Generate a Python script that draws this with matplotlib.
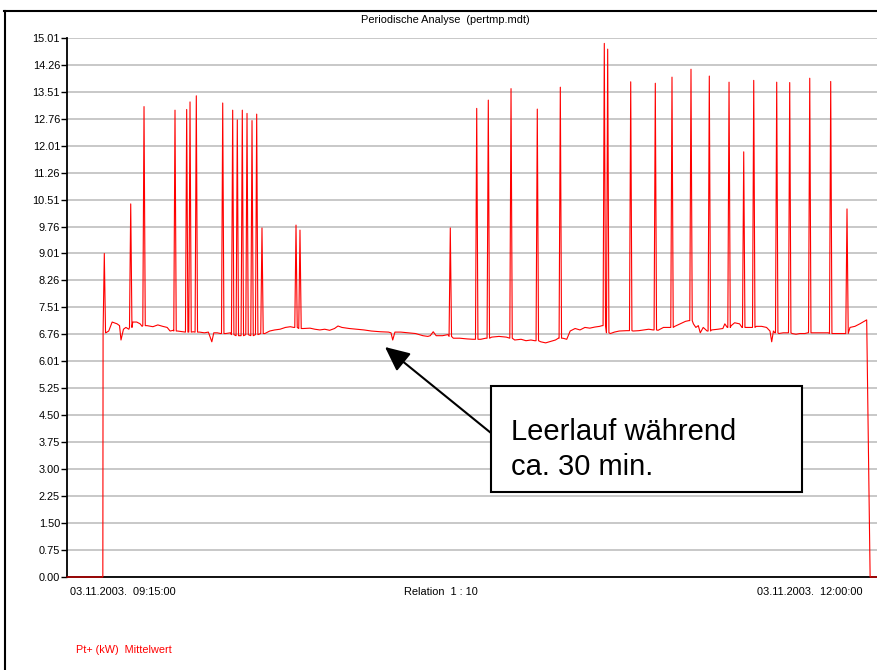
#!/usr/bin/env python3
"""Periodische Analyse (pertmp.mdt): Pt+ Mittelwert, 03.11.2003 09:15 - 12:00."""
import numpy as np
import matplotlib

matplotlib.use("Agg")
import matplotlib.pyplot as plt
from matplotlib.lines import Line2D

plt.rcParams["font.family"] = ["Liberation Sans", "DejaVu Sans"]

# ---------- data (minutes after 09:15:00, kW) ----------
BASE_MIN = [0.0, 7.3, 7.9, 8.5, 9.2, 10.2, 10.7, 11.0, 11.5, 12.0, 12.6,
            13.4, 14.2, 14.9, 15.3, 16.3, 17.5, 18.5, 19.5, 20.4, 21.0, 21.7,
            22.5, 23.5, 24.1, 25.7, 27.0, 28.0, 28.8, 29.5, 29.9, 30.6, 31.3,
            32.3, 33.3, 40.3, 41.3, 42.3, 43.4, 44.5, 45.5, 46.2, 48.2, 49.5,
            50.5, 51.5, 52.5, 53.5, 54.5, 55.2, 56.0, 57.5, 59.0, 60.5, 62.0,
            63.8, 65.5, 66.0, 66.35, 66.8, 68.0, 69.5, 71.0, 72.5, 73.5, 74.0,
            74.6, 75.2, 76.5, 77.6, 78.7, 80.0, 81.5, 82.7, 84.3, 85.3, 86.5,
            88.0, 89.5, 91.2, 92.5, 93.5, 94.5, 95.3, 96.5, 97.5, 98.5, 99.5,
            100.1, 101.0, 101.8, 102.5, 103.5, 104.5, 105.5, 106.5, 107.5,
            108.5, 109.0, 110.7, 111.5, 112.5, 114.0, 115.3, 116.5, 117.5,
            118.5, 119.4, 120.4, 121.5, 122.8, 123.8, 124.9, 126.0, 126.7,
            127.6, 128.1, 128.6, 129.0, 129.6, 130.4, 131.3, 132.6, 133.6,
            134.0, 134.5, 135.3, 136.0, 137.0, 137.5, 138.3, 139.4, 140.4,
            141.5, 142.5, 143.2, 143.55, 143.9, 144.2, 145.0, 145.9, 146.8,
            147.7, 148.5, 149.3, 150.3, 150.9, 151.8, 153.4, 155.1, 156.0,
            157.5, 158.4, 159.5, 160.5, 161.5, 162.9, 163.6, 165.0]
BASE_KW = [0.0, 0.0, 6.8, 6.85, 7.1, 7.05, 7.0, 6.6, 6.9, 6.95, 6.9,
           7.1, 7.1, 7.05, 6.98, 7.0, 6.97, 7.02, 6.98, 6.95, 6.85, 6.87,
           6.85, 6.83, 6.82, 6.83, 6.82, 6.8, 6.82, 6.55, 6.8, 6.8, 6.78,
           6.78, 6.8, 6.78, 6.85, 6.88, 6.9, 6.95, 6.97, 6.95, 6.92, 6.93,
           6.9, 6.88, 6.9, 6.87, 6.92, 6.99, 6.95, 6.92, 6.9, 6.88, 6.85,
           6.83, 6.82, 6.8, 6.6, 6.82, 6.82, 6.8, 6.78, 6.72, 6.7, 6.72,
           6.83, 6.72, 6.72, 6.75, 6.65, 6.65, 6.63, 6.62, 6.62, 6.65, 6.68,
           6.7, 6.68, 6.6, 6.62, 6.58, 6.6, 6.58, 6.55, 6.52, 6.56, 6.6,
           6.65, 6.65, 6.62, 6.85, 6.92, 6.88, 6.95, 6.93, 6.96,
           6.98, 7.0, 6.78, 6.82, 6.85, 6.86, 6.85, 6.86, 6.88,
           6.9, 6.88, 6.87, 6.95, 6.95, 6.98, 7.05, 7.12, 7.14,
           7.05, 6.95, 7.0, 6.8, 6.95, 6.85, 6.88, 6.9, 6.92,
           7.05, 6.95, 7.0, 7.08, 7.05, 6.95, 6.95, 6.95, 6.98,
           6.98, 6.95, 6.85, 6.55, 6.85, 6.8, 6.78, 6.8, 6.8,
           6.78, 6.76, 6.78, 6.78, 6.8, 6.8, 6.8, 6.8, 6.78,
           6.78, 6.78, 6.95, 6.98, 7.05, 7.16, 0.0, 0.0]

SPIKE_MIN = [7.6, 12.98, 15.69, 22.0, 24.38, 25.06, 26.34, 31.72, 33.75,
             34.69, 35.71, 36.67, 37.69, 38.64, 39.72, 46.65, 47.46, 78.08,
             83.46, 85.82, 90.45, 95.80, 100.49, 109.45, 110.14, 114.83,
             119.84, 123.24, 127.11, 130.84, 134.86, 137.85, 139.89, 144.57,
             147.22, 151.3, 155.57, 158.89]
SPIKE_KW = [9.01, 10.39, 13.1, 13.0, 13.02, 13.23, 13.4, 13.2, 13.0,
            12.73, 13.0, 12.91, 12.71, 12.89, 9.72, 9.8, 9.66, 9.72,
            13.05, 13.28, 13.6, 13.03, 13.64, 14.86, 14.7, 13.79,
            13.75, 13.92, 14.14, 13.95, 13.78, 11.84, 13.83, 13.78,
            13.77, 13.89, 13.8, 10.25]
SPIKE_FOOT = [6.8, 6.95, 7.0, 6.85, 6.82, 6.82, 6.82, 6.78, 6.75,
              6.72, 6.72, 6.75, 6.72, 6.75, 6.78, 6.95, 6.92, 6.7,
              6.62, 6.65, 6.65, 6.58, 6.65, 7.0, 6.8, 6.86,
              6.88, 6.95, 7.14, 6.85, 6.95, 6.95, 6.95, 6.8,
              6.8, 6.8, 6.78, 6.78]

Y_TICK_LABELS = ["0.00", "0.75", "1.50", "2.25", "3.00", "3.75", "4.50",
                 "5.25", "6.01", "6.76", "7.51", "8.26", "9.01", "9.76",
                 "10.51", "11.26", "12.01", "12.76", "13.51", "14.26", "15.01"]

W, H = 877, 670
RED = "#ff0000"
SMALL = 7.9


def fx(px):
    return px / W


def fy(py):
    return 1 - py / H


def build_series():
    # spikes are one sample wide: foot - peak - foot
    half = 0.25
    pts = list(zip(BASE_MIN, BASE_KW))
    for t, peak, foot in zip(SPIKE_MIN, SPIKE_KW, SPIKE_FOOT):
        pts += [(t - half, foot), (t, peak), (t + half, foot)]
    pts.sort(key=lambda p: p[0])
    arr = np.array(pts)
    return arr[:, 0], arr[:, 1]


def main():
    t, kw = build_series()

    fig = plt.figure(figsize=(W / 100, H / 100), dpi=100)
    ax = fig.add_axes([fx(67), fy(577), 1 - fx(67), fy(38) - fy(577)])

    yt = [float(s) for s in Y_TICK_LABELS]
    ax.set_yticks(yt)
    ax.set_yticklabels(Y_TICK_LABELS)
    ax.set_xticks([])
    ax.set_xlim(0, 165)
    ax.set_ylim(0, 15.01)
    ax.grid(axis="y", color="#c4c4c4", lw=1.3)
    ax.set_axisbelow(True)
    for side in ("top", "right"):
        ax.spines[side].set_visible(False)
    for side in ("left", "bottom"):
        ax.spines[side].set_linewidth(1.3)
    ax.tick_params(axis="y", direction="out", length=4, width=1.0,
                   labelsize=SMALL, pad=1)

    ax.plot(t, kw, color=RED, lw=0.8, clip_on=False, zorder=3)

    # outer frame (left and top edges)
    fig.add_artist(Line2D([fx(5), fx(5)], [fy(11), 0], color="black", lw=1.5))
    fig.add_artist(Line2D([fx(4), 1], [fy(11), fy(11)], color="black", lw=1.5))

    fig.text(fx(445), fy(20), "Periodische Analyse  (pertmp.mdt)",
             ha="center", va="center", fontsize=SMALL)
    fig.text(fx(70), fy(592), "03.11.2003.  09:15:00", ha="left", va="center", fontsize=SMALL)
    fig.text(fx(441), fy(592), "Relation  1 : 10", ha="center", va="center", fontsize=SMALL)
    fig.text(fx(863), fy(592), "03.11.2003.  12:00:00", ha="right", va="center", fontsize=SMALL)
    fig.text(fx(76), fy(650), "Pt+ (kW)  Mittelwert", ha="left", va="center",
             fontsize=7.8, color=RED)

    # annotation box with arrow
    box = plt.Rectangle((fx(491), fy(492)), fx(802) - fx(491), fy(386) - fy(492),
                        transform=fig.transFigure, facecolor="white",
                        edgecolor="black", lw=1.5, zorder=5)
    fig.add_artist(box)
    fig.text(fx(511), fy(432), "Leerlauf während", ha="left", va="center",
             fontsize=21, zorder=6)
    fig.text(fx(511), fy(467), "ca. 30 min.", ha="left", va="center",
             fontsize=21, zorder=6)
    ax.annotate("", xy=(fx(385), fy(347)), xytext=(fx(491), fy(433)),
                xycoords="figure fraction", textcoords="figure fraction",
                arrowprops=dict(arrowstyle="-|>,head_length=0.75,head_width=0.35",
                                mutation_scale=20, lw=1.5, color="black",
                                shrinkA=0, shrinkB=0), zorder=6)

    fig.savefig("out.png", dpi=100)


if __name__ == "__main__":
    main()
